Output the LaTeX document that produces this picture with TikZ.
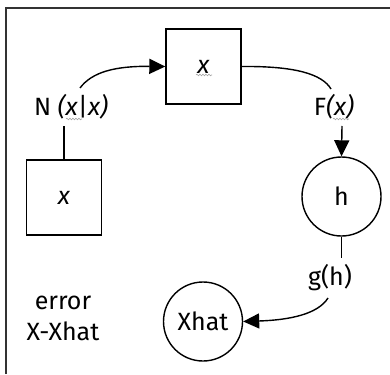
\documentclass[tikz,border=0pt]{standalone}
\usepackage{fontspec}
\setmainfont{Fira Sans}
\usetikzlibrary{arrows.meta,decorations.pathmorphing}
\begin{document}
\begin{tikzpicture}[x=1pt,y=-1pt,
  every node/.style={font=\fontsize{25}{31}\selectfont},
  box/.style={draw, line width=1.4pt, minimum size=75pt, inner sep=0pt},
  circ/.style={draw, circle, line width=1.4pt, minimum size=79pt, inner sep=0pt},
  lbl/.style={inner sep=1pt},
  conn/.style={line width=1.4pt},
  arr/.style={conn, -{Triangle[length=16pt,width=15pt]}},
  squig/.style={draw=gray!70, line width=0.6pt, decorate, decoration={snake, amplitude=0.8pt, segment length=3pt}},
]
\useasboundingbox (0,0) rectangle (390,374);
\fill[white] (0,0) rectangle (390,374);
\draw[line width=2pt, black!80] (6,374) -- (6,8) -- (390,8);

\node[box] (topbox) at (203.5,66.5) {\textit{x}};
\node[box] (inbox) at (64,197.5) {\textit{x}};
\node[circ] (hnode) at (341.5,196.5) {h};
\node[circ] (xhat) at (203,321.5) {Xhat};
\node[lbl] (nlab) at (71,107) {N \textit{(x}|\textit{x)}};
\node[lbl] (flab) at (334,107) {F\textit{(x)}};
\node[lbl] (glab) at (330,278) {g(h)};
\node[lbl, align=center] (err) at (63,318) {error\\X-Xhat};

\coordinate (c0) at (64,126);
\coordinate (c1) at (80,88);
\coordinate (c2) at (331,89);
\coordinate (c3) at (342,126);
\coordinate (c4) at (341.5,258);
\coordinate (c5) at (328,298);

\draw[conn] (inbox.north) -- (c0);
\draw[arr] (c1) .. controls (92,72) and (115,66) .. (topbox.west);
\draw[conn] (topbox.east) .. controls (295,66) and (322,74) .. (c2);
\draw[arr] (c3) -- (hnode.north);
\draw[conn] (hnode.south) -- (c4);
\draw[arr] (c5) .. controls (318,314) and (290,320) .. (xhat.east);

\draw[squig] (196,75) -- (212,75);
\draw[squig] (66,119) -- (82,119);
\draw[squig] (333,119) -- (349,119);
\end{tikzpicture}
\end{document}
